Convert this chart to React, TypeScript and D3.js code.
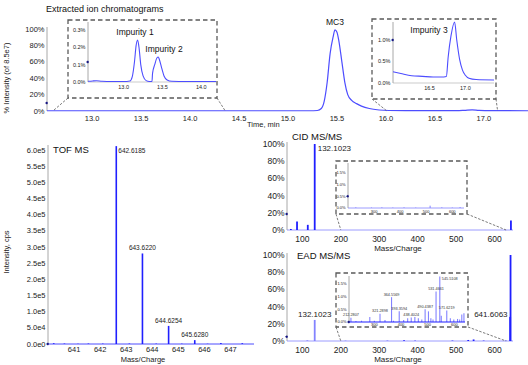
import React from 'react';
import * as d3 from 'd3';

const FONT = '"Liberation Sans", Arial, sans-serif';
const BLUE = '#1f1fff';
const TRACE = '#4d4dff';
const LIGHT = '#8383ff';
const AXIS = '#a8a8a8';
const BOX = '#5a5a5a';
const MARK = '#101080';

// extracted ion chromatogram, % of 8.5e7
const xicTime = [12.54, 13.0, 13.5, 14.0, 14.5, 15.0, 15.22, 15.3, 15.34, 15.37, 15.4, 15.43, 15.46, 15.48, 15.5, 15.52, 15.55, 15.58, 15.61, 15.65, 15.7, 15.75, 15.83, 15.93, 16.03, 16.3, 16.72, 16.8, 16.88, 16.95, 17.08, 17.45];
const xicPct = [0.3, 0.3, 0.3, 0.3, 0.3, 0.3, 0.3, 0.6, 3, 12, 35, 70, 90, 99, 96, 85, 60, 35, 20, 13, 9, 6, 3, 1.2, 0.6, 0.4, 0.4, 0.8, 1.4, 0.7, 0.4, 0.3];

// zoom on impurity 1 and 2
const imp12Time = [12.54, 12.6, 12.65, 12.72, 12.85, 13.0, 13.08, 13.11, 13.14, 13.16, 13.18, 13.2, 13.22, 13.25, 13.29, 13.33, 13.365, 13.372, 13.4, 13.43, 13.445, 13.46, 13.49, 13.52, 13.56, 13.62, 13.8, 14.19];
const imp12Pct = [0.004, 0.006, 0.007, 0.004, 0.003, 0.003, 0.006, 0.03, 0.12, 0.21, 0.242, 0.19, 0.1, 0.035, 0.008, 0.003, 0.003, 0.05, 0.1, 0.14, 0.144, 0.13, 0.08, 0.035, 0.012, 0.004, 0.003, 0.003];

// zoom on impurity 3
const imp3Time = [15.99, 16.1, 16.25, 16.4, 16.55, 16.7, 16.735, 16.76, 16.8, 16.85, 16.88, 16.92, 16.96, 17.0, 17.05, 17.15, 17.4];
const imp3Pct = [0.26, 0.22, 0.17, 0.155, 0.14, 0.14, 0.15, 0.6, 1.1, 1.42, 1.0, 0.55, 0.3, 0.18, 0.11, 0.08, 0.07];

const timeTicks = [13.0, 13.5, 14.0, 14.5, 15.0, 15.5, 16.0, 16.5, 17.0];
const pctTicks = [0, 20, 40, 60, 80, 100];
const imp12XTicks = [13.0, 13.5, 14.0];
const imp12YTicks = [0, 0.1, 0.2, 0.3];
const imp3XTicks = [16.5, 17.0];
const imp3YTicks = [0, 0.5, 1.0];

// TOF MS
const tofMz = [640.22, 640.63, 641.15, 641.55, 642.1, 642.6185, 643.12, 643.622, 644.15, 644.6254, 645.13, 645.628, 646.12, 646.63, 647.45];
const tofInt = [2500, 1500, 1000, 1500, 1200, 612000, 1500, 280000, 1200, 56000, 1000, 12000, 800, 3000, 2500];
const tofLabelMz = [642.6185, 643.622, 644.6254, 645.628];
const tofLabelText = ['642.6185', '643.6220', '644.6254', '645.6280'];
const tofXTicks = [641, 642, 643, 644, 645, 646, 647];
const tofYTicks = [0, 50000, 100000, 150000, 200000, 250000, 300000, 350000, 400000, 450000, 500000, 550000, 600000];
const tofYLabels = ['0.0e0', '5.0e4', '1.0e5', '1.5e5', '2.0e5', '2.5e5', '3.0e5', '3.5e5', '4.0e5', '4.5e5', '5.0e5', '5.5e5', '6.0e5'];

// CID MS/MS
const cidMz = [70.07, 86.1, 114.09, 132.1023, 642.6];
const cidPct = [1.2, 10, 6, 100, 11];
const cidInsetMz = [230, 290, 330, 372, 415, 460, 515, 560, 600, 630];
const cidInsetPct = [0.03, 0.02, 0.03, 0.02, 0.03, 0.02, 0.1, 0.03, 0.02, 0.04];

// EAD MS/MS
const eadMz = [113, 132.1023, 212.28, 321.29, 364.56, 393.36, 490.44, 531.47, 545.51, 571.62, 630, 640.6, 641.6063];
const eadPct = [0.8, 24.5, 0.2, 0.3, 1.0, 0.4, 0.5, 1.2, 1.8, 0.45, 0.3, 28, 100];
const eadInsetMz = [212.28, 231, 252, 283, 300, 321.29, 340, 364.56, 372, 393.36, 410, 425, 438.4, 452, 465, 478, 490.44, 503, 512, 520, 531.47, 545.51, 551, 571.62, 585, 598, 612, 620, 628, 636];
const eadInsetPct = [0.17, 0.04, 0.05, 0.2, 0.05, 0.33, 0.08, 0.98, 0.05, 0.42, 0.08, 0.15, 0.18, 0.2, 0.15, 0.1, 0.5, 0.42, 0.15, 0.1, 1.2, 1.8, 0.25, 0.45, 0.15, 0.1, 0.12, 0.1, 0.3, 0.35];
const eadLabelMz = [212.28, 321.29, 364.56, 393.36, 438.4, 490.44, 531.47, 571.62];
const eadLabelText = ['212.2807', '321.2898', '364.5569', '393.3594', '438.4024', '490.4387', '531.4661', '571.6219'];

const msXTicks = [100, 200, 300, 400, 500, 600];
const insetMzTicks = [300, 400, 500, 600];
const insetPctTicks = [0, 0.5, 1.0, 1.5];

type Sc = d3.ScaleLinear<number, number>;

const YAxis = ({ x, y, ticks, labels, size, top }: { x: Sc; y: Sc; ticks: number[]; labels: string[]; size: number; top: number }) => {
  const x0 = x.range()[0];
  return (
    <g fontFamily={FONT} fontSize={size} fill="#222">
      <line x1={x0} x2={x0} y1={y.range()[0]} y2={top} stroke={AXIS} strokeWidth={1} />
      {ticks.map((t, i) => (
        <text key={i} x={x0 - 2.5} y={y(t)} dy="0.35em" textAnchor="end">{labels[i]}</text>
      ))}
    </g>
  );
};

const XLabels = ({ x, y0, ticks, labels, size }: { x: Sc; y0: number; ticks: number[]; labels: string[]; size: number }) => (
  <g fontFamily={FONT} fontSize={size} fill="#222" textAnchor="middle">
    {ticks.map((t, i) => (
      <text key={i} x={x(t)} y={y0}>{labels[i]}</text>
    ))}
  </g>
);

const Trace = ({ x, y, xs, ys, w = 1.1 }: { x: Sc; y: Sc; xs: number[]; ys: number[]; w?: number }) => {
  const line = d3.line<number>().x((d) => x(d)).y((_, i) => y(ys[i])).curve(d3.curveMonotoneX);
  return <path d={line(xs) || ''} fill="none" stroke={TRACE} strokeWidth={w} />;
};

const Sticks = ({ x, y, xs, ys, color, w }: { x: Sc; y: Sc; xs: number[]; ys: number[]; color: string; w: number }) => (
  <g stroke={color} strokeWidth={w}>
    {xs.map((m, i) => (
      <line key={i} x1={x(m)} x2={x(m)} y1={y(0)} y2={y(ys[i])} />
    ))}
  </g>
);

const Box = ({ x0, y0, x1, y1 }: { x0: number; y0: number; x1: number; y1: number }) => (
  <rect x={x0} y={y0} width={x1 - x0} height={y1 - y0} fill="none" stroke={BOX} strokeWidth={1.3} strokeDasharray="4.5,3" />
);

const Link = ({ a, b }: { a: [number, number]; b: [number, number] }) => (
  <line x1={a[0]} y1={a[1]} x2={b[0]} y2={b[1]} stroke={BOX} strokeWidth={0.8} strokeDasharray="2.5,1.5" />
);

const Marker = ({ x, y }: { x: number; y: number }) => (
  <path d={`M${x - 2},${y} L${x},${y - 1.5} L${x + 1},${y} L${x},${y + 1.5} Z`} fill={MARK} />
);

const fmt1 = (v: number) => v.toFixed(1);
const pct0 = (v: number) => `${v}%`;
const pct1 = (v: number) => `${v.toFixed(1)}%`;

export default function App() {
  // top chromatogram
  const mX = d3.scaleLinear().domain([12.54, 17.45]).range([47, 528]);
  const mY = d3.scaleLinear().domain([0, 100]).range([111, 29]);
  const aX = d3.scaleLinear().domain([12.54, 14.19]).range([88, 216]);
  const aY = d3.scaleLinear().domain([0, 0.3]).range([82, 30]);
  const bX = d3.scaleLinear().domain([15.99, 17.4]).range([393, 494]);
  const bY = d3.scaleLinear().domain([0, 1.0]).range([83, 40]);

  // TOF
  const tX = d3.scaleLinear().domain([640.0, 647.9]).range([48, 254]);
  const tY = d3.scaleLinear().domain([0, 600000]).range([344, 150]);

  // CID
  const cX = d3.scaleLinear().domain([60, 648]).range([287, 513]);
  const cY = d3.scaleLinear().domain([0, 100]).range([230, 144]);
  const ciX = d3.scaleLinear().domain([200, 645]).range([348, 464]);
  const ciY = d3.scaleLinear().domain([0, 1.5]).range([208, 173]);

  // EAD
  const eX = d3.scaleLinear().domain([60, 648]).range([287, 513]);
  const eY = d3.scaleLinear().domain([0, 100]).range([341, 255]);
  const eiX = d3.scaleLinear().domain([205, 640]).range([349, 465]);
  const eiY = d3.scaleLinear().domain([0, 1.5]).range([322, 284]);

  const mc3Peak = d3.maxIndex(xicPct);

  return (
    <svg width={528} height={365} style={{ position: 'absolute', left: 0, top: 0, background: '#fff' }}>
      {/* ---------- top: chromatograms ---------- */}
      <text x={46} y={12} fontFamily={FONT} fontSize={9} fill="#111">Extracted ion chromatograms</text>
      <text transform="translate(9,78) rotate(-90)" textAnchor="middle" fontFamily={FONT} fontSize={7.5} fill="#222">% Intensity (of 8.5e7)</text>
      <YAxis x={mX} y={mY} ticks={pctTicks} labels={pctTicks.map(pct0)} size={7.5} top={27} />
      <XLabels x={mX} y0={121} ticks={timeTicks} labels={timeTicks.map(fmt1)} size={7.5} />
      <text x={247} y={127} fontFamily={FONT} fontSize={7.5} fill="#222">Time, min</text>
      <Trace x={mX} y={mY} xs={xicTime} ys={xicPct} w={1.2} />
      <Marker x={47} y={103} />
      <text x={mX(xicTime[mc3Peak])} y={25} textAnchor="middle" fontFamily={FONT} fontSize={8.5} fill="#111">MC3</text>

      {/* inset impurity 1 and 2 */}
      <Box x0={68} y0={20} x1={217} y1={98} />
      <Link a={[68, 98]} b={[mX(12.6), 111]} />
      <Link a={[217, 98]} b={[mX(14.36), 111]} />
      <YAxis x={aX} y={aY} ticks={imp12YTicks} labels={imp12YTicks.map(pct1)} size={5.5} top={22} />
      <line x1={88} x2={216} y1={aY(0)} y2={aY(0)} stroke={AXIS} strokeWidth={0.6} />
      <XLabels x={aX} y0={89} ticks={imp12XTicks} labels={imp12XTicks.map(fmt1)} size={5.5} />
      <Trace x={aX} y={aY} xs={imp12Time} ys={imp12Pct} />
      <Marker x={88} y={62} />
      <text x={135} y={35} textAnchor="middle" fontFamily={FONT} fontSize={8.5} fill="#111">Impurity 1</text>
      <text x={164} y={52} textAnchor="middle" fontFamily={FONT} fontSize={8.5} fill="#111">Impurity 2</text>

      {/* inset impurity 3 */}
      <Box x0={372} y0={19} x1={496} y1={99} />
      <Link a={[372, 99]} b={[mX(16.01), 111]} />
      <Link a={[496, 99]} b={[mX(17.14), 111]} />
      <YAxis x={bX} y={bY} ticks={imp3YTicks} labels={imp3YTicks.map(pct1)} size={5.5} top={22} />
      <line x1={393} x2={494} y1={bY(0)} y2={bY(0)} stroke={AXIS} strokeWidth={0.6} />
      <XLabels x={bX} y0={90} ticks={imp3XTicks} labels={imp3XTicks.map(fmt1)} size={5.5} />
      <Trace x={bX} y={bY} xs={imp3Time} ys={imp3Pct} />
      <Marker x={393} y={bY(1.0)} />
      <text x={429} y={33} textAnchor="middle" fontFamily={FONT} fontSize={8.5} fill="#111">Impurity 3</text>

      {/* ---------- bottom left: TOF MS ---------- */}
      <text transform="translate(9,252) rotate(-90)" textAnchor="middle" fontFamily={FONT} fontSize={7.5} fill="#222">Intensity, cps</text>
      <YAxis x={tX} y={tY} ticks={tofYTicks} labels={tofYLabels} size={7.5} top={145} />
      <line x1={48} x2={254} y1={tY(0)} y2={tY(0)} stroke={BLUE} strokeWidth={0.8} />
      <Sticks x={tX} y={tY} xs={tofMz} ys={tofInt} color={BLUE} w={1.6} />
      <XLabels x={tX} y0={352} ticks={tofXTicks} labels={tofXTicks.map(String)} size={7.5} />
      <text x={143} y={362} textAnchor="middle" fontFamily={FONT} fontSize={7.5} fill="#222">Mass/Charge</text>
      <text x={53} y={153} fontFamily={FONT} fontSize={9.5} fill="#111">TOF MS</text>
      <Marker x={48} y={tY(0)} />
      <g fontFamily={FONT} fontSize={6.5} fill="#222">
        {tofLabelMz.map((m, i) => {
          const h = tofInt[tofMz.indexOf(m)];
          return i === 0 ? (
            <text key={i} x={tX(m) + 2} y={tY(600000) + 3}>{tofLabelText[i]}</text>
          ) : (
            <text key={i} x={tX(m)} y={tY(h) - 3} textAnchor="middle">{tofLabelText[i]}</text>
          );
        })}
      </g>

      {/* ---------- bottom right: CID MS/MS ---------- */}
      <YAxis x={cX} y={cY} ticks={pctTicks} labels={pctTicks.map(pct0)} size={8.5} top={142} />
      <line x1={287} x2={513} y1={cY(0)} y2={cY(0)} stroke={LIGHT} strokeWidth={0.8} />
      <Sticks x={cX} y={cY} xs={cidMz} ys={cidPct} color={BLUE} w={1.8} />
      <XLabels x={cX} y0={242} ticks={msXTicks} labels={msXTicks.map(String)} size={8.5} />
      <text x={398} y={251} textAnchor="middle" fontFamily={FONT} fontSize={8} fill="#222">Mass/Charge</text>
      <text x={292} y={140} fontFamily={FONT} fontSize={9.5} fill="#111">CID MS/MS</text>
      <text x={cX(132.1023) + 3} y={cY(100) + 7} fontFamily={FONT} fontSize={8} fill="#222">132.1023</text>
      <Marker x={287} y={cY(18.5)} />

      <Box x0={336} y0={161} x1={467} y1={214} />
      <Link a={[336, 214]} b={[cX(200), 230]} />
      <Link a={[467, 214]} b={[cX(630), 230]} />
      <YAxis x={ciX} y={ciY} ticks={insetPctTicks} labels={insetPctTicks.map(pct1)} size={4} top={163} />
      <line x1={348} x2={464} y1={ciY(0)} y2={ciY(0)} stroke={LIGHT} strokeWidth={0.8} />
      <Sticks x={ciX} y={ciY} xs={cidInsetMz} ys={cidInsetPct} color={LIGHT} w={1} />
      <XLabels x={ciX} y0={212.5} ticks={insetMzTicks} labels={insetMzTicks.map(String)} size={4} />
      <Marker x={348} y={ciY(0.5)} />

      {/* ---------- bottom right: EAD MS/MS ---------- */}
      <YAxis x={eX} y={eY} ticks={pctTicks} labels={pctTicks.map(pct0)} size={8.5} top={253} />
      <line x1={287} x2={513} y1={eY(0)} y2={eY(0)} stroke={LIGHT} strokeWidth={0.8} />
      <Sticks x={eX} y={eY} xs={eadMz.slice(0, 2)} ys={eadPct.slice(0, 2)} color={LIGHT} w={1.8} />
      <Sticks x={eX} y={eY} xs={eadMz.slice(2)} ys={eadPct.slice(2)} color={BLUE} w={1.8} />
      <XLabels x={eX} y0={353} ticks={msXTicks} labels={msXTicks.map(String)} size={8.5} />
      <text x={398} y={362} textAnchor="middle" fontFamily={FONT} fontSize={8} fill="#222">Mass/Charge</text>
      <text x={297} y={259} fontFamily={FONT} fontSize={9.5} fill="#111">EAD MS/MS</text>
      <text x={eX(132.1023)} y={eY(24.5) - 3} textAnchor="middle" fontFamily={FONT} fontSize={8} fill="#222">132.1023</text>
      <text x={eX(641.6063) - 3} y={eY(30) + 2} textAnchor="end" fontFamily={FONT} fontSize={8} fill="#222">641.6063</text>
      <Marker x={287} y={eY(5)} />

      <Box x0={336} y0={273} x1={468} y1={327} />
      <Link a={[336, 327]} b={[eX(200), 341]} />
      <Link a={[468, 327]} b={[eX(630), 341]} />
      <YAxis x={eiX} y={eiY} ticks={insetPctTicks} labels={insetPctTicks.map(pct1)} size={4} top={276} />
      <Sticks x={eiX} y={eiY} xs={eadInsetMz} ys={eadInsetPct} color={LIGHT} w={1.1} />
      <line x1={349} x2={465} y1={eiY(0)} y2={eiY(0)} stroke={BLUE} strokeWidth={1} />
      <XLabels x={eiX} y0={326} ticks={insetMzTicks} labels={insetMzTicks.map(String)} size={4} />
      <Marker x={349} y={eiY(0)} />
      <g fontFamily={FONT} fontSize={3.8} fill="#333" textAnchor="middle">
        {eadLabelMz.map((m, i) => (
          <text key={i} x={eiX(m)} y={eiY(eadInsetPct[eadInsetMz.indexOf(m)]) - 1.5}>{eadLabelText[i]}</text>
        ))}
        <text x={eiX(545.51) + 2} y={eiY(1.8) + 4} textAnchor="start">545.5108</text>
      </g>
    </svg>
  );
}
